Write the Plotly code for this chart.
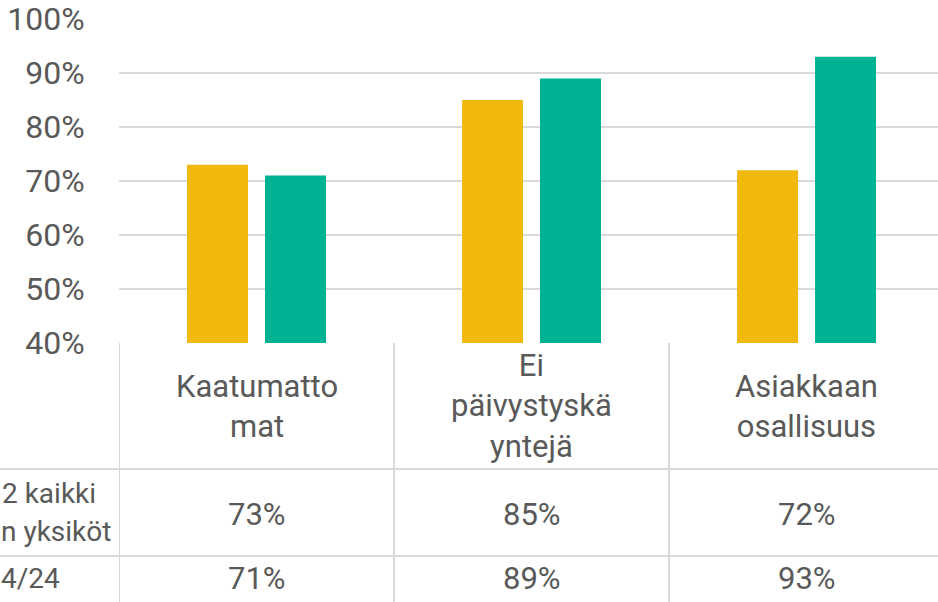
import plotly.graph_objects as go

categories = ["Kaatumatto<br>mat", "Ei<br>päivystyskä<br>yntejä", "Asiakkaan<br>osallisuus"]
series_a = [0.73, 0.85, 0.72]
series_b = [0.71, 0.89, 0.93]
row_a_label = ["2 kaikki", "n yksiköt"]
row_b_label = "4/24"
yticks = [0.4, 0.5, 0.6, 0.7, 0.8, 0.9, 1.0]

YELLOW = "#F1B80E"
TEAL = "#00B294"
GRID = "#D9D9D9"
TXT = "#595959"
FONT = "Roboto"
FS_TICK = 32
FS_TAB = 31
FS_ROW = 28

W, H = 938, 602
L, R, T, B = 119, 0, 19, 259
PW = W - L - R
PH = H - T - B

def py(p):  # pixel y -> paper y
    return (H - B - p) / PH

def px(p):  # pixel x -> paper x
    return (p - L) / PW

xs = list(range(len(categories)))

fig = go.Figure()
fig.add_trace(go.Bar(x=xs, y=series_a, marker=dict(color=YELLOW, line=dict(width=0)), showlegend=False))
fig.add_trace(go.Bar(x=xs, y=series_b, marker=dict(color=TEAL, line=dict(width=0)), showlegend=False))

shapes = []
for p in [469, 556]:
    shapes.append(dict(type="line", xref="paper", yref="paper", x0=px(0), x1=px(W + 5), y0=py(p), y1=py(p),
                       line=dict(color=GRID, width=2)))
for i in range(len(categories)):
    shapes.append(dict(type="line", xref="x", yref="paper", x0=i - 0.5, x1=i - 0.5, y0=0, y1=py(H + 5),
                       line=dict(color=GRID, width=2)))

tf = dict(family=FONT, size=FS_TAB, color=TXT)
rf = dict(family=FONT, size=FS_ROW, color=TXT)
annotations = []
for i, c in enumerate(categories):
    annotations.append(dict(x=i, y=py(406), xref="x", yref="paper", text=c, showarrow=False,
                            font=tf, align="center", yanchor="middle"))
    annotations.append(dict(x=i, y=py(514), xref="x", yref="paper", text=f"{round(series_a[i]*100)}%",
                            showarrow=False, font=tf, yanchor="middle"))
    annotations.append(dict(x=i, y=py(578), xref="x", yref="paper", text=f"{round(series_b[i]*100)}%",
                            showarrow=False, font=tf, yanchor="middle"))

annotations.append(dict(x=px(98), y=py(493), xref="paper", yref="paper", text=row_a_label[0], xanchor="right",
                        yanchor="middle", showarrow=False, font=rf))
annotations.append(dict(x=px(113), y=py(531), xref="paper", yref="paper", text=row_a_label[1], xanchor="right",
                        yanchor="middle", showarrow=False, font=rf))
annotations.append(dict(x=px(62), y=py(578), xref="paper", yref="paper", text=row_b_label, xanchor="right",
                        yanchor="middle", showarrow=False, font=rf))

fig.update_layout(
    width=W, height=H,
    margin=dict(l=L, r=R, t=T, b=B, pad=0),
    paper_bgcolor="white", plot_bgcolor="white",
    barmode="group", bargap=0.433, bargroupgap=0.218,
    shapes=shapes, annotations=annotations,
    font=dict(family=FONT, color=TXT),
)
fig.update_xaxes(range=[-0.5, 2.478], showticklabels=False, showgrid=False, zeroline=False,
                 showline=False, fixedrange=True)
fig.update_yaxes(range=[0.4, 1.0], tickvals=yticks, tickformat=".0%", showgrid=True, gridcolor=GRID,
                 gridwidth=2, zeroline=False, showline=False, ticks="outside", ticklen=27,
                 tickcolor="rgba(0,0,0,0)", tickfont=dict(family=FONT, size=FS_TICK, color=TXT))

fig.write_html("out.html", config={"displayModeBar": False},
               post_script="document.body.style.margin='0';document.body.style.overflow='hidden';")
